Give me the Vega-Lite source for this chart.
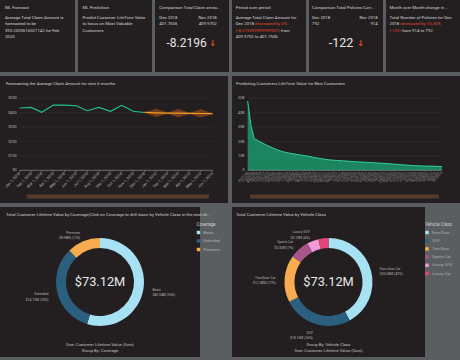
{
  "$schema": "https://vega.github.io/schema/vega-lite/v6.json",
  "background": "#5b5e60",
  "padding": {"left": 0, "top": 0, "right": 0, "bottom": 3},
  "spacing": 4,
  "resolve": {"scale": {"color": "independent"}, "legend": {"color": "independent"}},
  "config": {
    "view": {"fill": "#231f20", "stroke": null},
    "font": "Roboto",
    "title": {"anchor": "start", "frame": "group", "orient": "top", "fontSize": 4.3, "fontWeight": "normal", "color": "#d2d2d2", "baseline": "top", "font": "Roboto"},
    "text": {"font": "Roboto"},
    "axis": {"labelFont": "Roboto", "minExtent": 0, "labelOverlap": false, "labelFlush": false, "labelBound": false},
    "legend": {"labelFont": "Roboto", "titleFont": "Roboto"}
  },
  "vconcat": [
    {
      "spacing": 3,
      "resolve": {"scale": {"color": "independent"}, "legend": {"color": "independent"}},
      "hconcat": [
        {
          "width": 75, "height": 72,
          "title": {"text": "ML Forecast", "offset": -10.3, "dx": 5},
          "data": {"values": [
            {"line": 1, "text": "Average Total Claim Amount is"},
            {"line": 2, "text": "forecasted to be"},
            {"line": 3, "text": "393.2020616021142 for Feb"},
            {"line": 4, "text": "2020"}
          ]},
          "mark": {"type": "text", "align": "left", "baseline": "middle", "fontSize": 4.3, "color": "#d6d6d6"},
          "encoding": {
            "x": {"datum": 0, "type": "quantitative", "scale": {"domain": [-0.07, 1], "nice": false, "zero": false}, "axis": null},
            "y": {"field": "line", "type": "quantitative", "scale": {"domain": [-1.857, 9.571], "reverse": true, "nice": false, "zero": false}, "axis": null},
            "text": {"field": "text"}
          }
        },
        {
          "width": 74, "height": 72,
          "title": {"text": "ML Prediction", "offset": -10.3, "dx": 4.5},
          "data": {"values": [
            {"line": 1, "text": "Predict Customer LifeTime Value"},
            {"line": 2, "text": "to focus on Most Valuable"},
            {"line": 3, "text": "Customers"}
          ]},
          "mark": {"type": "text", "align": "left", "baseline": "middle", "fontSize": 4.3, "color": "#d6d6d6"},
          "encoding": {
            "x": {"datum": 0, "type": "quantitative", "scale": {"domain": [-0.065, 1], "nice": false, "zero": false}, "axis": null},
            "y": {"field": "line", "type": "quantitative", "scale": {"domain": [-1.857, 9.571], "reverse": true, "nice": false, "zero": false}, "axis": null},
            "text": {"field": "text"}
          }
        },
        {
          "width": 74, "height": 72,
          "title": {"text": "Comparison Total Claim amou...", "offset": -10.3, "dx": 4.3},
          "data": {"values": [
            {"line": 1, "role": "current", "text": "Dec 2018"},
            {"line": 2, "role": "current", "text": "401.7506"},
            {"line": 1, "role": "prior", "text": "Nov 2018"},
            {"line": 2, "role": "prior", "text": "409.9702"},
            {"line": 5, "role": "delta", "text": "-8.2196"}
          ]},
          "encoding": {
            "y": {"field": "line", "type": "quantitative", "scale": {"domain": [-1.857, 9.571], "reverse": true, "nice": false, "zero": false}, "axis": null}
          },
          "layer": [
            {
              "transform": [{"filter": "datum.role === 'current'"}],
              "mark": {"type": "text", "align": "left", "baseline": "middle", "fontSize": 4.3, "color": "#d6d6d6"},
              "encoding": {
                "x": {"datum": 0, "type": "quantitative", "scale": {"domain": [-0.075, 1.214], "nice": false, "zero": false}, "axis": null},
                "text": {"field": "text"}
              }
            },
            {
              "transform": [{"filter": "datum.role === 'prior'"}],
              "mark": {"type": "text", "align": "right", "baseline": "middle", "fontSize": 4.3, "color": "#d6d6d6"},
              "encoding": {
                "x": {"datum": 1, "type": "quantitative", "scale": {"domain": [-0.075, 1.214], "nice": false, "zero": false}, "axis": null},
                "text": {"field": "text"}
              }
            },
            {
              "transform": [{"filter": "datum.role === 'delta'"}],
              "mark": {"type": "text", "align": "right", "baseline": "middle", "fontSize": 12, "dx": 14.7, "color": "#e6e6e6"},
              "encoding": {"text": {"field": "text"}}
            },
            {
              "transform": [{"filter": "datum.role === 'delta'"}],
              "mark": {"type": "text", "align": "left", "baseline": "middle", "fontSize": 8.5, "dx": 17, "color": "#e0452b", "font": "DejaVu Sans", "fontWeight": "bold"},
              "encoding": {"text": {"value": "↓"}}
            }
          ]
        },
        {
          "width": 74, "height": 72,
          "title": {"text": "Period over period", "offset": -10.3, "dx": 3.7},
          "data": {"values": [
            {"line": 1, "part": "lead", "tone": "normal", "text": "Average Total Claim Amount for"},
            {"line": 2, "part": "lead", "tone": "normal", "text": "Dec 2018"},
            {"line": 2, "part": "tail", "tone": "alert", "text": "decreased by 2%"},
            {"line": 3, "part": "lead", "tone": "alert", "text": "(-8.219599999999957)"},
            {"line": 3, "part": "tail", "tone": "normal", "text": "from"},
            {"line": 4, "part": "lead", "tone": "normal", "text": "409.9702 to 401.7506."}
          ]},
          "encoding": {
            "x": {"datum": 0, "type": "quantitative", "scale": {"domain": [-0.053, 1], "nice": false, "zero": false}, "axis": null},
            "y": {"field": "line", "type": "quantitative", "scale": {"domain": [-1.857, 9.571], "reverse": true, "nice": false, "zero": false}, "axis": null},
            "color": {"field": "tone", "type": "nominal", "scale": {"domain": ["normal", "alert"], "range": ["#d6d6d6", "#e5472d"]}, "legend": null},
            "text": {"field": "text"}
          },
          "layer": [
            {"transform": [{"filter": "datum.part === 'lead'"}], "mark": {"type": "text", "align": "left", "baseline": "middle", "fontSize": 4.3}},
            {"transform": [{"filter": "datum.part === 'tail' && datum.line === 2"}], "mark": {"type": "text", "align": "left", "baseline": "middle", "fontSize": 4.3, "dx": 19.1}},
            {"transform": [{"filter": "datum.part === 'tail' && datum.line === 3"}], "mark": {"type": "text", "align": "left", "baseline": "middle", "fontSize": 4.3, "dx": 45}}
          ]
        },
        {
          "width": 74, "height": 72,
          "title": {"text": "Comparison Total Policies Curr...", "offset": -10.3, "dx": 3},
          "data": {"values": [
            {"line": 1, "role": "current", "text": "Dec 2018"},
            {"line": 2, "role": "current", "text": "792"},
            {"line": 1, "role": "prior", "text": "Nov 2018"},
            {"line": 2, "role": "prior", "text": "914"},
            {"line": 5, "role": "delta", "text": "-122"}
          ]},
          "encoding": {
            "y": {"field": "line", "type": "quantitative", "scale": {"domain": [-1.857, 9.571], "reverse": true, "nice": false, "zero": false}, "axis": null}
          },
          "layer": [
            {
              "transform": [{"filter": "datum.role === 'current'"}],
              "mark": {"type": "text", "align": "left", "baseline": "middle", "fontSize": 4.3, "color": "#d6d6d6"},
              "encoding": {
                "x": {"datum": 0, "type": "quantitative", "scale": {"domain": [-0.046, 1.081], "nice": false, "zero": false}, "axis": null},
                "text": {"field": "text"}
              }
            },
            {
              "transform": [{"filter": "datum.role === 'prior'"}],
              "mark": {"type": "text", "align": "right", "baseline": "middle", "fontSize": 4.3, "color": "#d6d6d6"},
              "encoding": {
                "x": {"datum": 1, "type": "quantitative", "scale": {"domain": [-0.046, 1.081], "nice": false, "zero": false}, "axis": null},
                "text": {"field": "text"}
              }
            },
            {
              "transform": [{"filter": "datum.role === 'delta'"}],
              "mark": {"type": "text", "align": "right", "baseline": "middle", "fontSize": 12.5, "dx": 7.3, "color": "#e6e6e6"},
              "encoding": {"text": {"field": "text"}}
            },
            {
              "transform": [{"filter": "datum.role === 'delta'"}],
              "mark": {"type": "text", "align": "left", "baseline": "middle", "fontSize": 8.5, "dx": 11, "color": "#e0452b", "font": "DejaVu Sans", "fontWeight": "bold"},
              "encoding": {"text": {"value": "↓"}}
            }
          ]
        },
        {
          "width": 74, "height": 72,
          "title": {"text": "Month over Month change in ...", "offset": -10.3, "dx": 3.5},
          "data": {"values": [
            {"line": 1, "part": "lead", "tone": "normal", "text": "Total Number of Policies for Dec"},
            {"line": 2, "part": "lead", "tone": "normal", "text": "2018"},
            {"line": 2, "part": "tail", "tone": "alert", "text": "decreased by 13.35%"},
            {"line": 3, "part": "lead", "tone": "alert", "text": "(-122)"},
            {"line": 3, "part": "tail", "tone": "normal", "text": "from 914 to 792."}
          ]},
          "encoding": {
            "x": {"datum": 0, "type": "quantitative", "scale": {"domain": [-0.05, 1], "nice": false, "zero": false}, "axis": null},
            "y": {"field": "line", "type": "quantitative", "scale": {"domain": [-1.857, 9.571], "reverse": true, "nice": false, "zero": false}, "axis": null},
            "color": {"field": "tone", "type": "nominal", "scale": {"domain": ["normal", "alert"], "range": ["#d6d6d6", "#e5472d"]}, "legend": null},
            "text": {"field": "text"}
          },
          "layer": [
            {"transform": [{"filter": "datum.part === 'lead'"}], "mark": {"type": "text", "align": "left", "baseline": "middle", "fontSize": 4.3}},
            {"transform": [{"filter": "datum.part === 'tail' && datum.line === 2"}], "mark": {"type": "text", "align": "left", "baseline": "middle", "fontSize": 4.3, "dx": 10.7}},
            {"transform": [{"filter": "datum.part === 'tail' && datum.line === 3"}], "mark": {"type": "text", "align": "left", "baseline": "middle", "fontSize": 4.3, "dx": 12.4}}
          ]
        }
      ]
    },
    {
      "spacing": 4,
      "hconcat": [
        {
          "width": 228, "height": 127,
          "title": {"text": "Forecasting the Average Claim Amount for next 6 months", "offset": -9.9, "dx": 6},
          "data": {"values": [
            {"month": "2018-01-01", "label": "Jan 1, 2018", "actual": 432.6},
            {"month": "2018-02-01", "label": "Feb 1, 2018", "actual": 437},
            {"month": "2018-03-01", "label": "Mar 1, 2018", "actual": 403},
            {"month": "2018-04-01", "label": "Apr 1, 2018", "actual": 453},
            {"month": "2018-05-01", "label": "May 1, 2018", "actual": 453},
            {"month": "2018-06-01", "label": "Jun 1, 2018", "actual": 448.6},
            {"month": "2018-07-01", "label": "Jul 1, 2018", "actual": 414},
            {"month": "2018-08-01", "label": "Aug 1, 2018", "actual": 437},
            {"month": "2018-09-01", "label": "Sep 1, 2018", "actual": 409.7},
            {"month": "2018-10-01", "label": "Oct 1, 2018", "actual": 451},
            {"month": "2018-11-01", "label": "Nov 1, 2018", "actual": 409.97},
            {"month": "2018-12-01", "label": "Dec 1, 2018", "actual": 401.75, "forecast": 401.75, "lower": 401.75, "upper": 401.75},
            {"month": "2019-01-01", "label": "Jan 1, 2019", "forecast": 399, "lower": 370, "upper": 428},
            {"month": "2019-02-01", "label": "Feb 1, 2019", "forecast": 397.5, "lower": 393, "upper": 401},
            {"month": "2019-03-01", "label": "Mar 1, 2019", "forecast": 396.5, "lower": 368, "upper": 426},
            {"month": "2019-04-01", "label": "Apr 1, 2019", "forecast": 395.5, "lower": 391, "upper": 399},
            {"month": "2019-05-01", "label": "May 1, 2019", "forecast": 394.5, "lower": 366, "upper": 424},
            {"month": "2019-06-01", "label": "Jun 1, 2019", "forecast": 393.2, "lower": 390, "upper": 396.5}
          ]},
          "layer": [
            {
              "data": {"values": [{"tick": 100}, {"tick": 200}, {"tick": 300}, {"tick": 400}, {"tick": 500}]},
              "mark": {"type": "rule", "color": "#383334", "strokeWidth": 0.5},
              "encoding": {
                "x": {"datum": {"year": 2018, "month": 1, "date": 1, "utc": true}, "type": "temporal",
                  "scale": {"type": "utc", "nice": false, "domain": [{"year": 2017, "month": 11, "date": 9, "hours": 8, "utc": true}, {"year": 2019, "month": 7, "date": 12, "hours": 12, "utc": true}]},
                  "axis": null},
                "x2": {"datum": {"year": 2019, "month": 6, "date": 1, "utc": true}},
                "y": {"field": "tick", "type": "quantitative", "scale": {"domain": [-227, 655], "nice": false, "zero": false}, "axis": null}
              }
            },
            {
              "data": {"values": [{"tick": 0, "label": "$0"}, {"tick": 100, "label": "$100"}, {"tick": 200, "label": "$200"}, {"tick": 300, "label": "$300"}, {"tick": 400, "label": "$400"}, {"tick": 500, "label": "$500"}]},
              "mark": {"type": "text", "align": "right", "baseline": "middle", "fontSize": 3.8, "color": "#b8b8b8", "dx": -3},
              "encoding": {
                "x": {"datum": {"year": 2018, "month": 1, "date": 1, "utc": true}, "type": "temporal", "axis": null},
                "y": {"field": "tick", "type": "quantitative", "axis": null},
                "text": {"field": "label"}
              }
            },
            {
              "transform": [{"filter": "isValid(datum.lower)"}],
              "mark": {"type": "area", "color": "#7b4420", "opacity": 0.85},
              "encoding": {
                "x": {"field": "month", "type": "temporal", "axis": null},
                "y": {"field": "lower", "type": "quantitative", "axis": null},
                "y2": {"field": "upper"}
              }
            },
            {
              "transform": [{"filter": "isValid(datum.actual)"}],
              "mark": {"type": "line", "color": "#22c08d", "strokeWidth": 1.1},
              "encoding": {
                "x": {"field": "month", "type": "temporal", "axis": null},
                "y": {"field": "actual", "type": "quantitative", "axis": null}
              }
            },
            {
              "transform": [{"filter": "isValid(datum.forecast)"}],
              "mark": {"type": "line", "color": "#f39a1f", "strokeWidth": 1.2},
              "encoding": {
                "x": {"field": "month", "type": "temporal", "axis": null},
                "y": {"field": "forecast", "type": "quantitative", "axis": null}
              }
            },
            {
              "data": {"values": [{}]},
              "mark": {"type": "rule", "color": "#a0a0a0", "strokeWidth": 0.6},
              "encoding": {
                "x": {"datum": {"year": 2018, "month": 1, "date": 1, "utc": true}, "type": "temporal", "axis": null},
                "x2": {"datum": {"year": 2019, "month": 6, "date": 1, "utc": true}},
                "y": {"datum": 0, "type": "quantitative", "axis": null}
              }
            },
            {
              "mark": {"type": "rule", "color": "#8c8c8c", "strokeWidth": 0.6},
              "encoding": {
                "x": {"field": "month", "type": "temporal", "axis": null},
                "y": {"datum": 0, "type": "quantitative", "axis": null},
                "y2": {"datum": -13.9}
              }
            },
            {
              "mark": {"type": "text", "angle": 315, "align": "right", "baseline": "middle", "fontSize": 3.8, "color": "#b8b8b8"},
              "encoding": {
                "x": {"field": "month", "type": "temporal", "axis": null},
                "y": {"datum": -21, "type": "quantitative", "axis": null},
                "text": {"field": "label"}
              }
            },
            {
              "data": {"values": [{}]},
              "mark": {"type": "rect", "color": "#553a2d", "xOffset": 7, "x2Offset": -3.5},
              "encoding": {
                "x": {"datum": {"year": 2018, "month": 1, "date": 1, "utc": true}, "type": "temporal", "axis": null},
                "x2": {"datum": {"year": 2019, "month": 6, "date": 1, "utc": true}},
                "y": {"datum": -168, "type": "quantitative", "axis": null},
                "y2": {"datum": -196}
              }
            }
          ]
        },
        {
          "width": 228, "height": 127,
          "title": {"text": "Predicting Customers LifeTime Value for New Customers", "offset": -9.9, "dx": 4},
          "data": {"values": [
            {"rank": 1, "customer": "BU79786", "clv": 48100},
            {"rank": 2, "customer": "QZ44356", "clv": 31000},
            {"rank": 3, "customer": "AI49188", "clv": 21800},
            {"rank": 4, "customer": "WW63253", "clv": 20800},
            {"rank": 5, "customer": "HB64268", "clv": 19500},
            {"rank": 6, "customer": "OC83172", "clv": 18300},
            {"rank": 7, "customer": "XZ87318", "clv": 17200},
            {"rank": 8, "customer": "CF85061", "clv": 16200},
            {"rank": 9, "customer": "DY87989", "clv": 15100},
            {"rank": 10, "customer": "BQ94931", "clv": 14200},
            {"rank": 11, "customer": "SX51350", "clv": 13400},
            {"rank": 12, "customer": "VQ65197", "clv": 12700},
            {"rank": 13, "customer": "DP39365", "clv": 12200},
            {"rank": 14, "customer": "SJ95423", "clv": 11800},
            {"rank": 15, "customer": "IL66569", "clv": 11400},
            {"rank": 16, "customer": "BW63560", "clv": 11000},
            {"rank": 17, "customer": "FV94802", "clv": 10700},
            {"rank": 18, "customer": "OE15005", "clv": 10300},
            {"rank": 19, "customer": "WC83389", "clv": 9900},
            {"rank": 20, "customer": "FL50705", "clv": 9500},
            {"rank": 21, "customer": "ZK25313", "clv": 9000},
            {"rank": 22, "customer": "SV85652", "clv": 8600},
            {"rank": 23, "customer": "KY38074", "clv": 8200},
            {"rank": 24, "customer": "DM79012", "clv": 7800},
            {"rank": 25, "customer": "CM61827", "clv": 7500},
            {"rank": 26, "customer": "WC35801", "clv": 7200},
            {"rank": 27, "customer": "QG25316", "clv": 7000},
            {"rank": 28, "customer": "MB98372", "clv": 6850},
            {"rank": 29, "customer": "IL19217", "clv": 6700},
            {"rank": 30, "customer": "SR38658", "clv": 6550},
            {"rank": 31, "customer": "OD18040", "clv": 6400},
            {"rank": 32, "customer": "DJ32853", "clv": 6250},
            {"rank": 33, "customer": "OT97233", "clv": 6100},
            {"rank": 34, "customer": "PD35039", "clv": 5950},
            {"rank": 35, "customer": "KL74218", "clv": 5800},
            {"rank": 36, "customer": "OQ51596", "clv": 5700},
            {"rank": 37, "customer": "DT43447", "clv": 5550},
            {"rank": 38, "customer": "MA88016", "clv": 5450},
            {"rank": 39, "customer": "VR49003", "clv": 5300},
            {"rank": 40, "customer": "LW47946", "clv": 5150},
            {"rank": 41, "customer": "AH45001", "clv": 5000},
            {"rank": 42, "customer": "HB94015", "clv": 4850},
            {"rank": 43, "customer": "FJ26212", "clv": 4700},
            {"rank": 44, "customer": "DW31054", "clv": 4550},
            {"rank": 45, "customer": "WT41069", "clv": 4350},
            {"rank": 46, "customer": "UM32493", "clv": 4150},
            {"rank": 47, "customer": "QJ70826", "clv": 4000},
            {"rank": 48, "customer": "GT54364", "clv": 3800},
            {"rank": 49, "customer": "CT18441", "clv": 3650},
            {"rank": 50, "customer": "EC90616", "clv": 3500},
            {"rank": 51, "customer": "XI79418", "clv": 3350},
            {"rank": 52, "customer": "EH23946", "clv": 3200},
            {"rank": 53, "customer": "AE18926", "clv": 3100},
            {"rank": 54, "customer": "WJ89456", "clv": 3000},
            {"rank": 55, "customer": "CU45629", "clv": 2950},
            {"rank": 56, "customer": "KS58567", "clv": 2900},
            {"rank": 57, "customer": "OK89127", "clv": 2850},
            {"rank": 58, "customer": "AI90233", "clv": 2800},
            {"rank": 59, "customer": "YB56389", "clv": 2700},
            {"rank": 60, "customer": "BE39473", "clv": 2600}
          ]},
          "layer": [
            {
              "data": {"values": [{"tick": 10000}, {"tick": 20000}, {"tick": 30000}, {"tick": 40000}, {"tick": 50000}]},
              "mark": {"type": "rule", "color": "#383334", "strokeWidth": 0.5},
              "encoding": {
                "x": {"datum": 1, "type": "quantitative", "scale": {"domain": [-3.767, 65.466], "nice": false, "zero": false}, "axis": null},
                "x2": {"datum": 60},
                "y": {"field": "tick", "type": "quantitative", "scale": {"domain": [-22708, 65486], "nice": false, "zero": false}, "axis": null}
              }
            },
            {
              "data": {"values": [{"tick": 0, "label": "0"}, {"tick": 10000, "label": "10K"}, {"tick": 20000, "label": "20K"}, {"tick": 30000, "label": "30K"}, {"tick": 40000, "label": "40K"}, {"tick": 50000, "label": "50K"}]},
              "mark": {"type": "text", "align": "right", "baseline": "middle", "fontSize": 3.8, "color": "#b8b8b8", "dx": -3},
              "encoding": {
                "x": {"datum": 1, "type": "quantitative", "axis": null},
                "y": {"field": "tick", "type": "quantitative", "axis": null},
                "text": {"field": "label"}
              }
            },
            {
              "mark": {"type": "area", "color": "#1c8b64", "opacity": 0.95},
              "encoding": {
                "x": {"field": "rank", "type": "quantitative", "axis": null},
                "y": {"field": "clv", "type": "quantitative", "axis": null}
              }
            },
            {
              "mark": {"type": "line", "color": "#2fd39a", "strokeWidth": 1},
              "encoding": {
                "x": {"field": "rank", "type": "quantitative", "axis": null},
                "y": {"field": "clv", "type": "quantitative", "axis": null}
              }
            },
            {
              "mark": {"type": "text", "angle": 315, "align": "right", "baseline": "middle", "fontSize": 3.2, "color": "#8f8f8f"},
              "encoding": {
                "x": {"field": "rank", "type": "quantitative", "axis": null},
                "y": {"datum": -1389, "type": "quantitative", "axis": null},
                "text": {"field": "customer"}
              }
            },
            {
              "data": {"values": [{}]},
              "mark": {"type": "rule", "color": "#a0a0a0", "strokeWidth": 0.6},
              "encoding": {
                "x": {"datum": 1, "type": "quantitative", "axis": null},
                "x2": {"datum": 60},
                "y": {"datum": 0, "type": "quantitative", "axis": null}
              }
            },
            {
              "data": {"values": [{}]},
              "mark": {"type": "rect", "color": "#553a2d", "xOffset": 2.3, "x2Offset": -3},
              "encoding": {
                "x": {"datum": 1, "type": "quantitative", "axis": null},
                "x2": {"datum": 60},
                "y": {"datum": -16806, "type": "quantitative", "axis": null},
                "y2": {"datum": -19583}
              }
            }
          ]
        }
      ]
    },
    {
      "spacing": 4,
      "resolve": {"scale": {"color": "independent"}, "legend": {"color": "independent"}},
      "hconcat": [
        {
          "title": {"text": "Total Customer Lifetime Value by Coverage(Click on Coverage to drill down by Vehicle Class in the next ch...", "offset": -10, "dx": 6, "limit": 219},
          "spacing": 0,
          "hconcat": [
            {
              "width": 200, "height": 150,
              "data": {"values": [
                {"coverage": "Basic", "clv": 40.04, "label": "Basic\n$40.04M (55%)"},
                {"coverage": "Extended", "clv": 24.10, "label": "Extended\n$24.10M (33%)"},
                {"coverage": "Premium", "clv": 8.98, "label": "Premium\n$8.98M (12%)"}
              ]},
              "layer": [
                {
                  "mark": {"type": "arc", "outerRadius": 44, "innerRadius": 34},
                  "encoding": {
                    "theta": {"field": "clv", "type": "quantitative", "stack": true},
                    "order": {"field": "clv", "sort": "descending"},
                    "color": {"field": "coverage", "type": "nominal",
                      "scale": {"domain": ["Basic", "Extended", "Premium"], "range": ["#a6e1f4", "#2b5f7e", "#f7ad4f"]},
                      "legend": {"orient": "none", "legendX": 196.5, "legendY": 14.5, "title": "Coverage", "titleFontSize": 4.5, "titleColor": "#cfcfcf", "titleFontWeight": "normal", "titlePadding": 4.5, "labelFontSize": 4, "labelColor": "#b0b0b0", "symbolType": "square", "symbolSize": 12, "symbolStrokeWidth": 0, "rowPadding": 4.5, "labelOffset": 3, "padding": 0}}
                  }
                },
                {
                  "mark": {"type": "text", "radius": 53, "align": "left", "baseline": "middle", "fontSize": 3.4, "lineBreak": "\n", "color": "#b4b4b4"},
                  "encoding": {
                    "theta": {"field": "clv", "type": "quantitative", "stack": true},
                    "order": {"field": "clv", "sort": "descending"},
                    "text": {"condition": {"test": "datum.coverage === 'Basic'", "field": "label"}, "value": ""}
                  }
                },
                {
                  "mark": {"type": "text", "radius": 53, "align": "right", "baseline": "middle", "fontSize": 3.4, "lineBreak": "\n", "color": "#b4b4b4"},
                  "encoding": {
                    "theta": {"field": "clv", "type": "quantitative", "stack": true},
                    "order": {"field": "clv", "sort": "descending"},
                    "text": {"condition": {"test": "datum.coverage !== 'Basic'", "field": "label"}, "value": ""}
                  }
                },
                {
                  "data": {"values": [{"total": "$73.12M"}]},
                  "mark": {"type": "text", "fontSize": 12.8, "color": "#e8e8e8", "align": "center", "baseline": "middle"},
                  "encoding": {"text": {"field": "total"}}
                },
                {
                  "data": {"values": [{"line": 1, "caption": "Size: Customer Lifetime Value (Sum)"}, {"line": 2, "caption": "Group By: Coverage"}]},
                  "mark": {"type": "text", "fontSize": 4.2, "color": "#c0c0c0", "align": "center", "baseline": "middle"},
                  "encoding": {
                    "y": {"field": "line", "type": "quantitative", "scale": {"domain": [-22, 3], "reverse": true, "nice": false, "zero": false}, "axis": null},
                    "text": {"field": "caption"}
                  }
                }
              ]
            },
            {
              "width": 28, "height": 150,
              "data": {"values": [{}]},
              "mark": {"type": "text"},
              "encoding": {"text": {"value": ""}}
            }
          ]
        },
        {
          "title": {"text": "Total Customer Lifetime Value by Vehicle Class", "offset": -10, "dx": 4},
          "spacing": 0,
          "hconcat": [
            {
              "width": 193, "height": 150,
              "data": {"values": [
                {"vehicle": "Four-Door Car", "clv": 30.68, "label": "Four-door Car\n$30.68M (42%)"},
                {"vehicle": "SUV", "clv": 18.76, "label": "SUV\n$18.76M (26%)"},
                {"vehicle": "Two-Door Car", "clv": 12.58, "label": "Two-Door Car\n$12.58M (17%)"},
                {"vehicle": "Sports Car", "clv": 5.30, "label": "Sports Car\n$5.30M (7%)"},
                {"vehicle": "Luxury SUV", "clv": 3.10, "label": "Luxury SUV\n$3.10M (4%)"},
                {"vehicle": "Luxury Car", "clv": 2.70, "label": "Luxury Car\n$2.70M (4%)"}
              ]},
              "layer": [
                {
                  "mark": {"type": "arc", "outerRadius": 44, "innerRadius": 34},
                  "encoding": {
                    "theta": {"field": "clv", "type": "quantitative", "stack": true},
                    "order": {"field": "clv", "sort": "descending"},
                    "color": {"field": "vehicle", "type": "nominal",
                      "scale": {"domain": ["Four-Door Car", "SUV", "Two-Door Car", "Sports Car", "Luxury SUV", "Luxury Car"], "range": ["#a6e1f4", "#2b5f7e", "#f7ad4f", "#a8558a", "#f29ad6", "#e5457a"]},
                      "legend": {"orient": "none", "legendX": 193, "legendY": 14.5, "title": "Vehicle Class", "titleFontSize": 4.5, "titleColor": "#cfcfcf", "titleFontWeight": "normal", "titlePadding": 4.5, "labelFontSize": 4, "labelColor": "#b0b0b0", "symbolType": "square", "symbolSize": 12, "symbolStrokeWidth": 0, "rowPadding": 4.2, "labelOffset": 3, "padding": 0, "labelExpr": "indexof(datum.label, 'Door') > 0 ? replace(datum.label, ' Car', ' ...') : datum.label"}}
                  }
                },
                {
                  "mark": {"type": "text", "radius": 53, "align": "left", "baseline": "middle", "fontSize": 3.4, "lineBreak": "\n", "color": "#b4b4b4"},
                  "encoding": {
                    "theta": {"field": "clv", "type": "quantitative", "stack": true},
                    "order": {"field": "clv", "sort": "descending"},
                    "text": {"condition": {"test": "datum.vehicle === 'Four-Door Car'", "field": "label"}, "value": ""}
                  }
                },
                {
                  "mark": {"type": "text", "radius": 53, "align": "right", "baseline": "middle", "fontSize": 3.4, "lineBreak": "\n", "color": "#b4b4b4"},
                  "encoding": {
                    "theta": {"field": "clv", "type": "quantitative", "stack": true},
                    "order": {"field": "clv", "sort": "descending"},
                    "text": {"condition": {"test": "datum.vehicle !== 'Four-Door Car' && datum.vehicle !== 'Luxury Car'", "field": "label"}, "value": ""}
                  }
                },
                {
                  "data": {"values": [{"total": "$73.12M"}]},
                  "mark": {"type": "text", "fontSize": 12.8, "color": "#e8e8e8", "align": "center", "baseline": "middle"},
                  "encoding": {"text": {"field": "total"}}
                },
                {
                  "data": {"values": [{"line": 1, "caption": "Group By: Vehicle Class"}, {"line": 2, "caption": "Size: Customer Lifetime Value (Sum)"}]},
                  "mark": {"type": "text", "fontSize": 4.2, "color": "#c0c0c0", "align": "center", "baseline": "middle"},
                  "encoding": {
                    "y": {"field": "line", "type": "quantitative", "scale": {"domain": [-22, 3], "reverse": true, "nice": false, "zero": false}, "axis": null},
                    "text": {"field": "caption"}
                  }
                }
              ]
            },
            {
              "width": 35, "height": 150,
              "data": {"values": [{}]},
              "mark": {"type": "text"},
              "encoding": {"text": {"value": ""}}
            }
          ]
        }
      ]
    }
  ]
}
